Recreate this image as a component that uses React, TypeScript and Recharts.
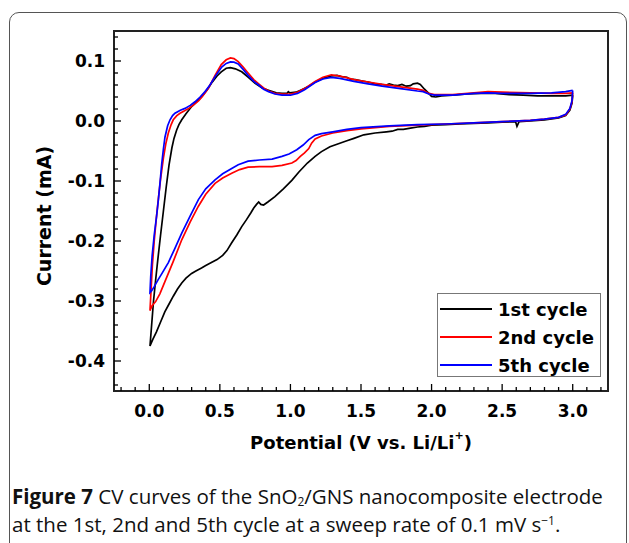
import React from 'react';
import { LineChart, Line, XAxis, YAxis, Legend, ReferenceArea } from 'recharts';

// CV loops: cathodic sweep 3.0 V -> 0.005 V, then anodic sweep back to 3.0 V
// [potential (V), current (mA)]
const cycle1: [number, number][] = [
  [3.0, 0.043], [2.995, 0.03], [2.98, 0.018], [2.95, 0.009], [2.9, 0.005], [2.8, 0.002], [2.7, 0.0],
  [2.62, -0.001], [2.605, -0.009], [2.595, -0.001], [2.5, -0.002], [2.4, -0.003], [2.3, -0.004],
  [2.2, -0.005], [2.1, -0.006], [2.0, -0.007], [1.95, -0.009], [1.9, -0.01], [1.85, -0.012],
  [1.8, -0.014], [1.76, -0.014], [1.72, -0.017], [1.68, -0.018], [1.6, -0.02], [1.52, -0.023],
  [1.45, -0.029], [1.4, -0.033], [1.34, -0.038], [1.28, -0.043], [1.22, -0.051], [1.175, -0.059],
  [1.12, -0.07], [1.06, -0.085], [1.01, -0.099], [0.95, -0.113], [0.89, -0.126], [0.84, -0.135],
  [0.81, -0.14], [0.79, -0.139], [0.775, -0.135], [0.76, -0.139], [0.74, -0.145], [0.72, -0.153],
  [0.69, -0.164], [0.655, -0.176], [0.62, -0.19], [0.584, -0.203], [0.55, -0.216], [0.52, -0.224],
  [0.48, -0.231], [0.44, -0.236], [0.4, -0.241], [0.37, -0.245], [0.33, -0.25], [0.3, -0.254],
  [0.26, -0.262], [0.23, -0.27], [0.2, -0.28], [0.17, -0.292], [0.14, -0.305], [0.11, -0.318],
  [0.08, -0.335], [0.05, -0.352], [0.025, -0.364], [0.005, -0.375],
  [0.015, -0.345], [0.03, -0.3], [0.045, -0.265], [0.06, -0.232], [0.08, -0.19], [0.1, -0.15],
  [0.12, -0.11], [0.14, -0.073], [0.16, -0.045], [0.175, -0.029], [0.194, -0.015], [0.21, -0.006],
  [0.23, 0.002], [0.26, 0.012], [0.3, 0.024], [0.34, 0.033], [0.37, 0.04], [0.41, 0.052],
  [0.44, 0.063], [0.48, 0.075], [0.51, 0.082], [0.545, 0.088], [0.575, 0.089], [0.61, 0.087],
  [0.655, 0.082], [0.7, 0.073], [0.75, 0.063], [0.8, 0.055], [0.845, 0.051], [0.9, 0.047],
  [0.94, 0.046], [0.975, 0.046], [0.985, 0.049], [0.995, 0.047], [1.04, 0.048], [1.08, 0.052],
  [1.13, 0.058], [1.175, 0.065], [1.23, 0.071], [1.29, 0.075], [1.33, 0.076], [1.36, 0.074],
  [1.4, 0.073], [1.42, 0.07], [1.46, 0.069], [1.5, 0.067], [1.55, 0.065], [1.6, 0.062],
  [1.64, 0.061], [1.68, 0.06], [1.7, 0.062], [1.73, 0.06], [1.76, 0.059], [1.79, 0.061],
  [1.82, 0.058], [1.85, 0.059], [1.87, 0.062], [1.9, 0.063], [1.92, 0.061], [1.95, 0.053],
  [1.98, 0.046], [2.0, 0.041], [2.03, 0.04], [2.07, 0.042], [2.15, 0.043], [2.25, 0.045],
  [2.35, 0.046], [2.45, 0.046], [2.55, 0.044], [2.65, 0.043], [2.75, 0.042], [2.85, 0.042],
  [2.95, 0.042], [3.0, 0.043],
];

const cycle2: [number, number][] = [
  [3.0, 0.047], [2.995, 0.032], [2.98, 0.02], [2.95, 0.01], [2.9, 0.006], [2.8, 0.003], [2.7, 0.001],
  [2.5, -0.001], [2.3, -0.003], [2.1, -0.005], [1.9, -0.007], [1.7, -0.009], [1.5, -0.013],
  [1.4, -0.016], [1.3, -0.02], [1.22, -0.025], [1.175, -0.03], [1.15, -0.037], [1.13, -0.046],
  [1.1, -0.053], [1.07, -0.059], [1.04, -0.066], [1.01, -0.07], [0.94, -0.074], [0.87, -0.076],
  [0.78, -0.076], [0.7, -0.077], [0.64, -0.081], [0.584, -0.087], [0.52, -0.095], [0.466, -0.104],
  [0.4, -0.122], [0.348, -0.142], [0.29, -0.168], [0.23, -0.198], [0.17, -0.234], [0.11, -0.268],
  [0.075, -0.288], [0.045, -0.301], [0.03, -0.305], [0.02, -0.308], [0.01, -0.313], [0.005, -0.316],
  [0.012, -0.285], [0.022, -0.24], [0.035, -0.2], [0.05, -0.162], [0.065, -0.128], [0.08, -0.097],
  [0.1, -0.062], [0.117, -0.038], [0.135, -0.02], [0.155, -0.006], [0.17, 0.002], [0.195, 0.009],
  [0.218, 0.013], [0.25, 0.017], [0.28, 0.021], [0.31, 0.026], [0.35, 0.034], [0.38, 0.042],
  [0.42, 0.055], [0.466, 0.076], [0.51, 0.094], [0.545, 0.102], [0.575, 0.105], [0.6, 0.104],
  [0.63, 0.099], [0.665, 0.09], [0.7, 0.08], [0.74, 0.069], [0.775, 0.062], [0.81, 0.055],
  [0.845, 0.05], [0.89, 0.046], [0.94, 0.045], [1.0, 0.045], [1.05, 0.048], [1.1, 0.054],
  [1.175, 0.066], [1.23, 0.073], [1.29, 0.077], [1.35, 0.075], [1.45, 0.069], [1.55, 0.065],
  [1.65, 0.061], [1.78, 0.057], [1.9, 0.053], [1.94, 0.051], [1.98, 0.046], [2.02, 0.044],
  [2.15, 0.044], [2.3, 0.047], [2.4, 0.049], [2.5, 0.048], [2.7, 0.047], [2.85, 0.046],
  [2.95, 0.046], [3.0, 0.047],
];

const cycle5: [number, number][] = [
  [3.0, 0.051], [2.995, 0.034], [2.98, 0.021], [2.95, 0.011], [2.9, 0.006], [2.8, 0.003], [2.7, 0.001],
  [2.5, -0.001], [2.3, -0.003], [2.1, -0.005], [1.9, -0.006], [1.7, -0.008], [1.5, -0.011],
  [1.4, -0.014], [1.3, -0.018], [1.22, -0.021], [1.175, -0.024], [1.13, -0.031], [1.09, -0.04],
  [1.045, -0.048], [0.99, -0.055], [0.94, -0.059], [0.87, -0.0635], [0.78, -0.065], [0.7, -0.067],
  [0.63, -0.073], [0.584, -0.079], [0.52, -0.088], [0.466, -0.098], [0.4, -0.113], [0.348, -0.131],
  [0.29, -0.158], [0.23, -0.187], [0.18, -0.213], [0.135, -0.236], [0.09, -0.254], [0.064, -0.264],
  [0.035, -0.276], [0.017, -0.283], [0.005, -0.286],
  [0.01, -0.26], [0.02, -0.225], [0.035, -0.19], [0.052, -0.158], [0.065, -0.13], [0.076, -0.103],
  [0.088, -0.072], [0.1, -0.047], [0.111, -0.027], [0.13, -0.008], [0.147, 0.002], [0.165, 0.009],
  [0.182, 0.013], [0.22, 0.018], [0.253, 0.021], [0.29, 0.026], [0.324, 0.032], [0.36, 0.04],
  [0.395, 0.049], [0.43, 0.06], [0.466, 0.074], [0.513, 0.09], [0.545, 0.096], [0.575, 0.0985],
  [0.6, 0.098], [0.63, 0.095], [0.665, 0.086], [0.7, 0.076], [0.74, 0.066], [0.775, 0.06],
  [0.81, 0.053], [0.845, 0.049], [0.89, 0.045], [0.94, 0.043], [1.0, 0.043], [1.05, 0.046],
  [1.1, 0.052], [1.175, 0.064], [1.23, 0.07], [1.29, 0.0726], [1.35, 0.071], [1.45, 0.066],
  [1.55, 0.062], [1.65, 0.058], [1.78, 0.054], [1.9, 0.05], [1.94, 0.049], [1.98, 0.045],
  [2.02, 0.043], [2.15, 0.043], [2.3, 0.046], [2.4, 0.047], [2.5, 0.046], [2.7, 0.046],
  [2.85, 0.047], [2.95, 0.049], [3.0, 0.051],
];

const seriesNames = ['1st cycle', '2nd cycle', '5th cycle'];
const seriesColors = ['#000000', '#ff0000', '#0000ff'];

const xDomain: [number, number] = [-0.25, 3.25];
const yDomain: [number, number] = [-0.45, 0.15];
const xMajor = [0, 0.5, 1.0, 1.5, 2.0, 2.5, 3.0];
const yMajor = [-0.4, -0.3, -0.2, -0.1, 0.0, 0.1];

// minor tick positions (every 0.1 V / 0.02 mA)
const steps = (from: number, to: number, step: number) => {
  const out: number[] = [];
  for (let v = from; v <= to + 1e-9; v += step) out.push(Math.round(v * 1000) / 1000);
  return out;
};
const xTicks = steps(-0.2, 3.2, 0.1);
const yTicks = steps(-0.44, 0.14, 0.02);

const isMajor = (v: number, majors: number[]) => majors.some((m) => Math.abs(m - v) < 1e-6);

const FONT = '"DejaVu Sans", sans-serif';
const AXIS = '#222';
const X_MARGIN = 6;
const Y_MARGIN = 6;

const toPoints = (arr: [number, number][]) => arr.map(([x, y]) => ({ x, y }));

const XTick = (props: any) => {
  const { x, y, payload } = props;
  const v = payload.value;
  const axisY = y - X_MARGIN;
  const major = isMajor(v, xMajor);
  return (
    <g>
      <line x1={x} x2={x} y1={axisY} y2={axisY - (major ? 7 : 4)} stroke="#000" strokeWidth={1.3} />
      {major && (
        <text x={x} y={axisY + 20} textAnchor="middle" dominantBaseline="central"
          fontFamily={FONT} fontWeight="bold" fontSize={17} fill="#000">
          {v.toFixed(1)}
        </text>
      )}
    </g>
  );
};

const YTick = (props: any) => {
  const { x, y, payload } = props;
  const v = payload.value;
  const axisX = x + Y_MARGIN;
  const major = isMajor(v, yMajor);
  return (
    <g>
      <line x1={axisX} x2={axisX + (major ? 7 : 4)} y1={y} y2={y} stroke="#000" strokeWidth={1.3} />
      {major && (
        <text x={axisX - 9} y={y} textAnchor="end" dominantBaseline="central"
          fontFamily={FONT} fontWeight="bold" fontSize={17} fill="#000">
          {v.toFixed(1)}
        </text>
      )}
    </g>
  );
};

const renderLegend = (props: any) => {
  const { payload } = props;
  return (
    <svg width={164} height={84} style={{ display: 'block' }}>
      <rect x={0.5} y={0.5} width={163} height={83} fill="#fff" stroke="#777" />
      {(payload || []).map((entry: any, i: number) => (
        <g key={entry.value}>
          <line x1={3} x2={55} y1={16 + i * 28} y2={16 + i * 28} stroke={entry.color} strokeWidth={2} />
          <text x={61} y={16 + i * 28} dominantBaseline="central" fontFamily={FONT}
            fontWeight="bold" fontSize={18} fill="#000">
            {entry.value}
          </text>
        </g>
      ))}
    </svg>
  );
};

const App: React.FC = () => {
  const series = [cycle1, cycle2, cycle5];
  return (
    <div style={{ position: 'absolute', left: 0, top: 0, width: 629, height: 543, overflow: 'hidden', background: '#fff' }}>
      <div style={{
        position: 'absolute', left: 9, top: 12, width: 618, height: 600, boxSizing: 'border-box',
        border: '1.5px solid #555', borderRadius: 10,
      }} />
      <div style={{ position: 'absolute', left: 0, top: 0 }}>
        <LineChart width={629} height={460} margin={{ top: 31, right: 21, left: 54, bottom: 29 }}>
          <XAxis
            type="number" dataKey="x" domain={xDomain} ticks={xTicks} interval={0}
            allowDataOverflow height={40} tickSize={0} tickMargin={X_MARGIN} tickLine={false}
            tick={<XTick />} axisLine={{ stroke: AXIS, strokeWidth: 2 }}
            label={(p: any) => {
              const vb = p.viewBox || { x: 114, y: 391, width: 494, height: 40 };
              return (
                <text x={vb.x + vb.width / 2} y={vb.y + 51} textAnchor="middle" dominantBaseline="central"
                  fontFamily={FONT} fontWeight="bold" fontSize={18} fill="#000">
                  Potential (V vs. Li/Li<tspan dy={-7} fontSize={11}>+</tspan><tspan dy={7}>)</tspan>
                </text>
              );
            }}
          />
          <YAxis
            type="number" dataKey="y" domain={yDomain} ticks={yTicks} interval={0}
            allowDataOverflow width={60} tickSize={0} tickMargin={Y_MARGIN} tickLine={false}
            tick={<YTick />} axisLine={{ stroke: AXIS, strokeWidth: 2 }}
            label={(p: any) => {
              const vb = p.viewBox || { x: 54, y: 31, width: 60, height: 360 };
              const cx = vb.x - 10;
              const cy = vb.y + vb.height / 2 + 5;
              return (
                <text x={cx} y={cy} textAnchor="middle" dominantBaseline="central"
                  transform={`rotate(-90 ${cx} ${cy})`}
                  fontFamily={FONT} fontWeight="bold" fontSize={19} fill="#000">
                  Current (mA)
                </text>
              );
            }}
          />
          {/* plot frame */}
          <ReferenceArea x1={xDomain[0]} x2={xDomain[1]} y1={yDomain[0]} y2={yDomain[1]}
            fill="none" stroke={AXIS} strokeWidth={2} ifOverflow="visible" />
          {series.map((s, i) => (
            <Line
              key={seriesNames[i]}
              data={toPoints(s)}
              dataKey="y"
              name={seriesNames[i]}
              type="linear"
              stroke={seriesColors[i]}
              strokeWidth={1.7}
              dot={false}
              activeDot={false}
              isAnimationActive={false}
            />
          ))}
          <Legend
            layout="vertical" align="center" verticalAlign="middle" content={renderLegend}
            wrapperStyle={{ left: 437, top: 293, width: 164, height: 84 }}
          />
        </LineChart>
      </div>
      <div style={{
        position: 'absolute', left: 12, top: 482, width: 615, fontFamily: '"Open Sans", sans-serif',
        fontSize: 20.5, lineHeight: '28px', color: '#111', whiteSpace: 'nowrap',
      }}>
        <div>
          <b>Figure 7</b> CV curves of the SnO
          <span style={{ fontSize: 12, lineHeight: 0, verticalAlign: '-2px' }}>2</span>
          /GNS nanocomposite electrode
        </div>
        <div>
          at the 1st, 2nd and 5th cycle at a sweep rate of 0.1 mV s
          <span style={{ fontSize: 12, lineHeight: 0, verticalAlign: '7px' }}>−1</span>.
        </div>
      </div>
    </div>
  );
};

export default App;
